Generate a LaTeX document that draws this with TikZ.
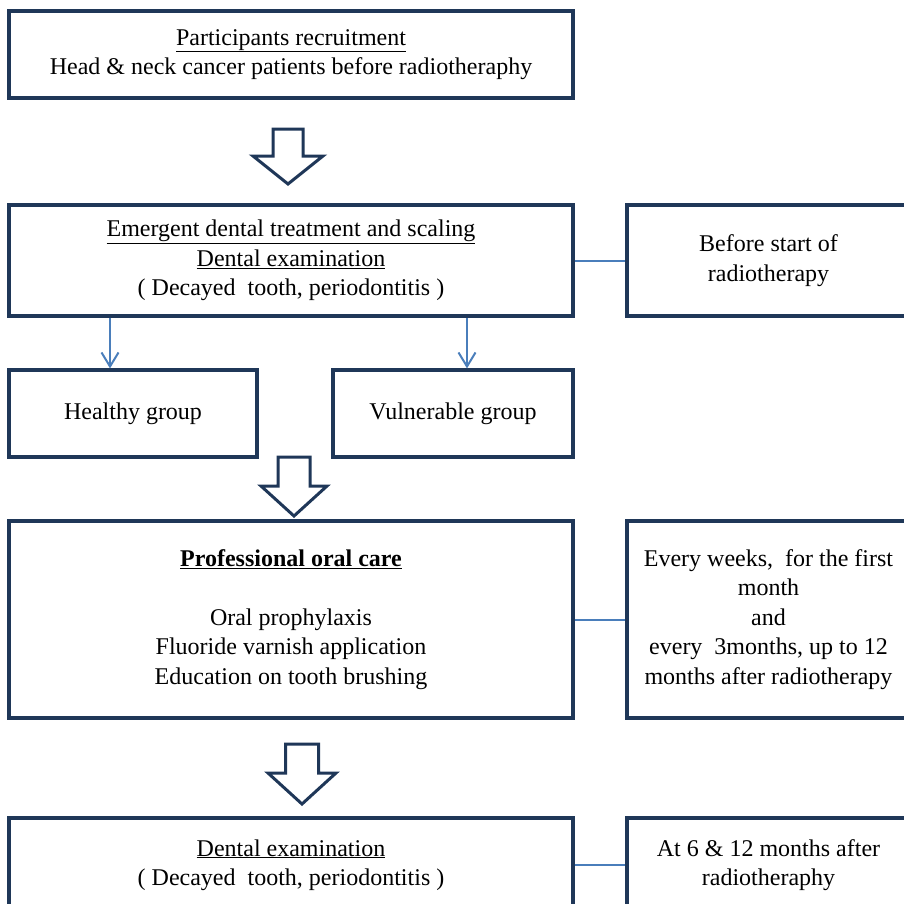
\documentclass[tikz,border=0pt]{standalone}
\usepackage{fontspec}
\setmainfont{Liberation Serif}
\usepackage{tikz}
\usetikzlibrary{arrows.meta}
\definecolor{navy}{RGB}{31,55,88}
\definecolor{linkblue}{RGB}{74,126,187}
\tikzset{
    box/.style={
        draw=navy, line width=3.2pt, fill=white, align=center,
        inner sep=0pt, minimum width=#1,
        font=\fontsize{24}{29.5}\selectfont
    },
    box/.default=564pt,
    link/.style={draw=linkblue, line width=2pt},
    linkarrow/.style={link, -{Straight Barb[length=14pt,width=17pt,line width=2pt]}},
    hollow/.style={draw=navy, line width=3pt, fill=white, line join=miter}
}
% block arrow: x, top, shaft half width, head half width, head base, tip
\newcommand{\blockarrow}[6] {
	\draw[hollow] (#1-#3,#2) -- (#1+#3,#2) -- (#1+#3,#5) -- (#1+#4,#5)
		-- (#1,#6) -- (#1-#4,#5) -- (#1-#3,#5) -- cycle;
}
\begin{document}
\begin{tikzpicture}[x=1pt, y=-1pt]
		\useasboundingbox (0,0) rectangle (904,903);

		% recruitment
		\node[box, minimum height=87pt] (recruit) at (291,54.5)
			{\underline{Participants recruitment}\\ Head \& neck cancer patients before radiotheraphy};
		\blockarrow{288}{129}{15}{35}{156}{184}

		% before radiotherapy
		\node[box, minimum height=111pt] (emergent) at (291,260.5)
			{\underline{Emergent dental treatment and scaling}\\ \underline{Dental examination}\\ ( Decayed~ tooth, periodontitis )};
		\node[box=283pt, minimum height=111pt] (before) at (768.5,260.5)
			{Before start of\\ radiotherapy};
		\draw[link] (emergent.east) -- (before.west);

		% groups
		\node[box=248pt, minimum height=87pt] (healthy) at (133,413.5) {Healthy group};
		\node[box=240pt, minimum height=87pt] (vulnerable) at (453,413.5) {Vulnerable group};
		\draw[linkarrow] ([xshift=-23pt]healthy.north |- emergent.south) -- ([xshift=-23pt]healthy.north);
		\draw[linkarrow] ([xshift=14pt]vulnerable.north |- emergent.south) -- ([xshift=14pt]vulnerable.north);
		\blockarrow{294}{457}{16}{33}{486}{516}

		% oral care
		\node[box, minimum height=197pt] (care) at (291,619.5)
			{\textbf{\underline{Professional oral care}}\\[29.5pt] Oral prophylaxis\\ Fluoride varnish application\\ Education on tooth brushing};
		\node[box=283pt, minimum height=197pt] (weekly) at (768.5,619.5)
			{Every weeks,~ for the first\\ month\\ and\\ every~ 3months, up to 12\\ months after radiotherapy};
		\draw[link] (care.east) -- (weekly.west);
		\blockarrow{302}{744}{16.5}{34}{773}{804}

		% follow up
		\node[box, minimum height=94pt] (exam) at (291,865)
			{\underline{Dental examination}\\ ( Decayed~ tooth, periodontitis )};
		\node[box=283pt, minimum height=94pt] (months) at (768.5,865)
			{At 6 \& 12 months after\\ radiotheraphy};
		\draw[link] (exam.east) -- (months.west);

	\end{tikzpicture}
\end{document}
